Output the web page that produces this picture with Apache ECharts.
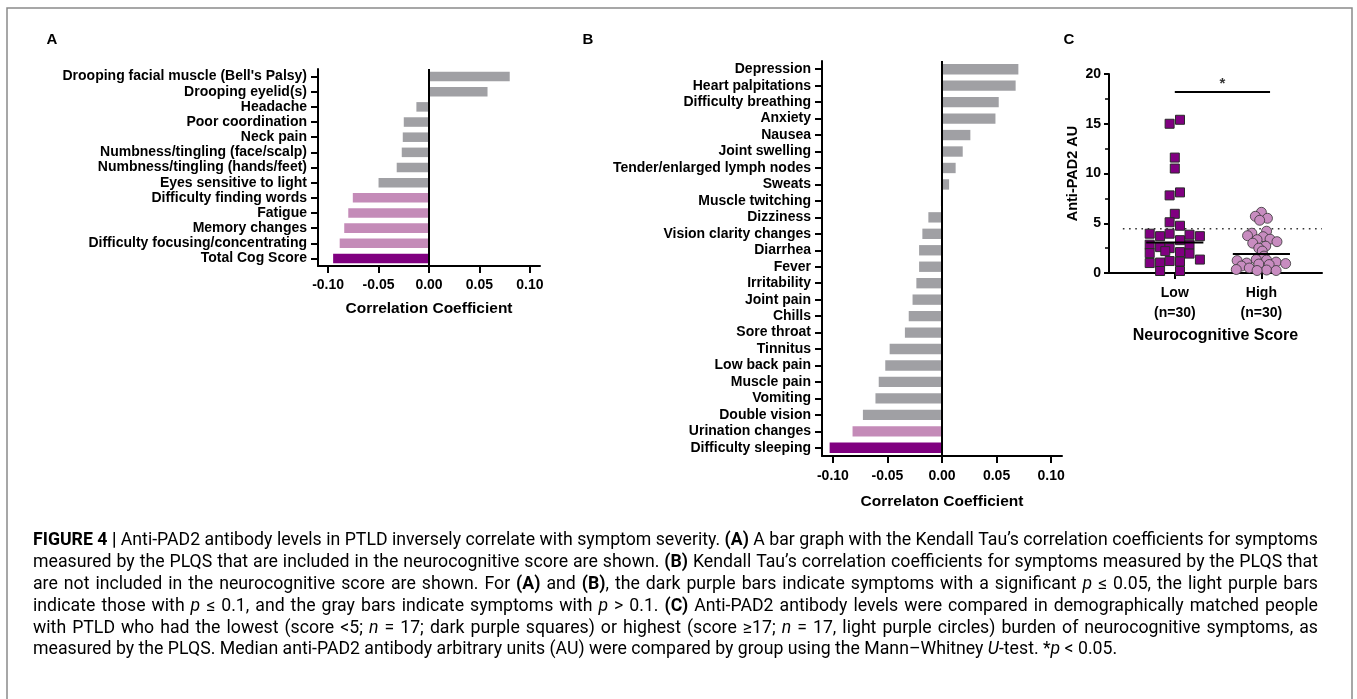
<!DOCTYPE html>
<html><head><meta charset="utf-8">
<script src="https://cdn.jsdelivr.net/npm/echarts@6/dist/echarts.min.js"></script>
<style>html,body{margin:0;padding:0;background:#fff}#c{width:1357px;height:699px}</style>
</head><body><div id="c"></div>
<script>
// ---------- DATA ----------
const aCategories = ["Drooping facial muscle (Bell's Palsy)", "Drooping eyelid(s)", "Headache", "Poor coordination", "Neck pain", "Numbness/tingling (face/scalp)", "Numbness/tingling (hands/feet)", "Eyes sensitive to light", "Difficulty finding words", "Fatigue", "Memory changes", "Difficulty focusing/concentrating", "Total Cog Score"];
const aValues = [0.080, 0.058, -0.0125, -0.025, -0.026, -0.027, -0.032, -0.050, -0.0755, -0.080, -0.084, -0.0885, -0.095];
const aSignificance = [0, 0, 0, 0, 0, 0, 0, 0, 1, 1, 1, 1, 2];

const bCategories = ["Depression", "Heart palpitations", "Difficulty breathing", "Anxiety", "Nausea", "Joint swelling", "Tender/enlarged lymph nodes", "Sweats", "Muscle twitching", "Dizziness", "Vision clarity changes", "Diarrhea", "Fever", "Irritability", "Joint pain", "Chills", "Sore throat", "Tinnitus", "Low back pain", "Muscle pain", "Vomiting", "Double vision", "Urination changes", "Difficulty sleeping"];
const bValues = [0.070, 0.0675, 0.052, 0.049, 0.026, 0.019, 0.0125, 0.0065, -0.001, -0.0125, -0.018, -0.021, -0.021, -0.0235, -0.027, -0.0305, -0.034, -0.048, -0.052, -0.058, -0.061, -0.0725, -0.082, -0.103];
const bSignificance = [0, 0, 0, 0, 0, 0, 0, 0, 0, 0, 0, 0, 0, 0, 0, 0, 0, 0, 0, 0, 0, 0, 1, 2];

const corrTicks = [-0.10, -0.05, 0, 0.05, 0.10];

const cGroups = ["Low\n(n=30)", "High\n(n=30)"];
const lowValues = [15.4, 15.0, 11.6, 10.5, 8.1, 7.8, 5.95, 5.1, 4.75, 3.95, 3.95, 3.85, 3.7, 3.7, 3.3, 2.85, 2.85, 2.6, 2.5, 2.0, 2.1, 1.95, 2.2, 1.0, 1.05, 1.2, 1.15, 1.35, 0.2, 0.2];
const lowJitter = [0.06, -0.06, 0, 0, 0.06, -0.06, 0, -0.06, 0.06, -0.29, -0.06, 0.17, -0.17, 0.29, 0.06, -0.29, 0.17, -0.17, -0.06, -0.29, 0.06, 0.17, -0.11, -0.29, -0.17, -0.06, 0.06, 0.29, -0.17, 0.06];
const highValues = [6.1, 5.7, 5.5, 5.3, 4.2, 4.0, 3.75, 3.65, 3.4, 3.35, 3.15, 3.0, 2.7, 2.5, 2.2, 1.7, 1.35, 1.3, 1.25, 1.1, 1.0, 0.95, 0.9, 0.85, 0.7, 0.5, 0.35, 0.3, 0.25, 0.25];
const highJitter = [0, -0.07, 0.07, -0.02, 0.06, -0.11, -0.16, 0.02, 0.1, -0.05, 0.18, -0.1, 0.05, -0.03, 0.01, 0.03, -0.06, 0.06, -0.28, 0.17, -0.17, 0.28, -0.03, 0.09, -0.23, -0.14, -0.29, 0.06, -0.05, 0.17];
const groupMedians = [3.07, 1.9];
const cutoffValue = 4.45;
const sigBarValue = 18.2;
const cTicks = [0, 5, 10, 15, 20];

const captionLines = [
  [["FIGURE 4 |", "b"], [" Anti-PAD2 antibody levels in PTLD inversely correlate with symptom severity. ", "n"], ["(A)", "b"], [" A bar graph with the Kendall Tau’s correlation coefficients for symptoms", "n"]],
  [["measured by the PLQS that are included in the neurocognitive score are shown. ", "n"], ["(B)", "b"], [" Kendall Tau’s correlation coefficients for symptoms measured by the PLQS that", "n"]],
  [["are not included in the neurocognitive score are shown. For ", "n"], ["(A)", "b"], [" and ", "n"], ["(B)", "b"], [", the dark purple bars indicate symptoms with a significant ", "n"], ["p", "i"], [" ≤ 0.05, the light purple bars", "n"]],
  [["indicate those with ", "n"], ["p", "i"], [" ≤ 0.1, and the gray bars indicate symptoms with ", "n"], ["p", "i"], [" > 0.1. ", "n"], ["(C)", "b"], [" Anti-PAD2 antibody levels were compared in demographically matched people", "n"]],
  [["with PTLD who had the lowest (score <5; ", "n"], ["n", "i"], [" = 17; dark purple squares) or highest (score ≥17; ", "n"], ["n", "i"], [" = 17, light purple circles) burden of neurocognitive symptoms, as", "n"]],
  [["measured by the PLQS. Median anti-PAD2 antibody arbitrary units (AU) were compared by group using the Mann–Whitney ", "n"], ["U", "i"], ["-test. *", "n"], ["p", "i"], [" < 0.05.", "n"]]
];

// ---------- STYLE ----------
const sigColors = ['#a0a0a4', '#c48bb8', '#800080'];
const FONT = '"Liberation Sans", Arial, sans-serif';
const CAPFONT = 'Roboto, "Liberation Sans", sans-serif';
const black = '#000';

function corrXAxis(gi, name, nameGap, margin) {
  return {
    type: 'value', gridIndex: gi, min: -0.11, max: 0.11,
    axisLine: { show: true, onZero: false, lineStyle: { color: black, width: 2 } },
    axisTick: { show: true, customValues: corrTicks, length: 7, lineStyle: { color: black, width: 2 } },
    axisLabel: { customValues: corrTicks, formatter: v => v.toFixed(2), fontFamily: FONT, fontSize: 14, fontWeight: 'bold', color: black, margin: margin },
    splitLine: { show: false },
    name: name, nameLocation: 'middle', nameGap: nameGap,
    nameTextStyle: { fontFamily: FONT, fontSize: 15.5, fontWeight: 'bold', color: black }
  };
}
function catYAxis(gi, cats) {
  return {
    type: 'category', gridIndex: gi, data: cats, inverse: true,
    axisLine: { show: true, onZero: false, lineStyle: { color: black, width: 2 } },
    axisTick: { show: true, alignWithLabel: true, length: 7, lineStyle: { color: black, width: 2 } },
    axisLabel: { fontFamily: FONT, fontSize: 14, fontWeight: 'bold', color: black, margin: 11, interval: 0 },
    splitLine: { show: false }
  };
}
function barSeries(gi, vals, sig) {
  return {
    type: 'bar', xAxisIndex: gi, yAxisIndex: gi, barWidth: '63%',
    data: vals.map((v, i) => ({ value: v, itemStyle: { color: sigColors[sig[i]] } })),
    markLine: { silent: true, symbol: 'none', label: { show: false }, lineStyle: { color: black, width: 2, type: 'solid' }, data: [{ xAxis: 0 }] }
  };
}

// ---------- caption layout (justified lines) ----------
const mctx = document.createElement('canvas').getContext('2d');
function fontFor(style, size) {
  return (style === 'i' ? 'italic ' : '') + (style === 'b' ? 'bold ' : '') + size + 'px ' + CAPFONT;
}
function measure(t, s, size) { mctx.font = fontFor(s, size); return mctx.measureText(t).width; }
function toWords(segs) {
  const words = []; let cur = [];
  segs.forEach(([t, s]) => {
    for (const ch of t) {
      if (ch === ' ') { if (cur.length) { words.push(cur); cur = []; } }
      else if (cur.length && cur[cur.length - 1][1] === s) cur[cur.length - 1][0] += ch;
      else cur.push([ch, s]);
    }
  });
  if (cur.length) words.push(cur);
  return words;
}
function wordWidth(w, size) { return w.reduce((a, [t, s]) => a + measure(t, s, size), 0); }
function naturalWidth(segs, size) {
  const ws = toWords(segs);
  return ws.reduce((a, w) => a + wordWidth(w, size), 0) + (ws.length - 1) * measure(' ', 'n', size);
}
const capLeft = 33, capRight = 1318, capTop = 541, capLineGap = 21.8;
const capSize = 100 * (capRight - capLeft) / naturalWidth(captionLines[0], 100);
const rich = {
  n: { fontFamily: CAPFONT, fontSize: capSize, color: '#3d3d3d' },
  b: { fontFamily: CAPFONT, fontSize: capSize, fontWeight: 'bold', color: '#222' },
  i: { fontFamily: CAPFONT, fontSize: capSize, fontStyle: 'italic', color: '#3d3d3d' }
};

const graphics = [
  { type: 'rect', shape: { x: 7, y: 8, width: 1345, height: 720 }, style: { fill: 'none', stroke: '#8a8a8a', lineWidth: 1.5 }, silent: true },
  { type: 'text', x: 52, y: 40, style: { text: 'A', font: 'bold 15px ' + FONT, fill: black, textAlign: 'center', textVerticalAlign: 'middle' } },
  { type: 'text', x: 588, y: 40, style: { text: 'B', font: 'bold 15px ' + FONT, fill: black, textAlign: 'center', textVerticalAlign: 'middle' } },
  { type: 'text', x: 1069, y: 40, style: { text: 'C', font: 'bold 15px ' + FONT, fill: black, textAlign: 'center', textVerticalAlign: 'middle' } }
];
captionLines.forEach((segs, k) => {
  const words = toWords(segs);
  const ww = words.map(w => wordWidth(w, capSize));
  const total = ww.reduce((a, b) => a + b, 0);
  const last = k === captionLines.length - 1;
  const gap = last ? measure(' ', 'n', capSize) : (capRight - capLeft - total) / (words.length - 1);
  let x = capLeft;
  words.forEach((w, j) => {
    graphics.push({
      type: 'text', x: x, y: capTop + k * capLineGap, silent: true,
      style: { text: w.map(([t, s]) => '{' + s + '|' + t + '}').join(''), rich: rich, verticalAlign: 'middle', textVerticalAlign: 'middle' }
    });
    x += ww[j] + gap;
  });
});

const chart = echarts.init(document.getElementById('c'), null, { renderer: 'canvas' });
chart.setOption({
  animation: false,
  backgroundColor: '#fff',
  grid: [
    { left: 318, top: 69, width: 222, height: 197 },
    { left: 822, top: 61, width: 240, height: 395 },
    { left: 1109, top: 74, width: 213, height: 199 }
  ],
  xAxis: [
    corrXAxis(0, 'Correlation Coefficient', 35, 12),
    corrXAxis(1, 'Correlaton Coefficient', 38, 13),
    {
      type: 'value', gridIndex: 2, min: 0.24, max: 2.7,
      axisLine: { show: true, onZero: false, lineStyle: { color: black, width: 2 } },
      axisTick: { show: true, customValues: [1, 2], length: 6, lineStyle: { color: black, width: 2 } },
      axisLabel: { customValues: [1, 2], formatter: v => cGroups[Math.round(v) - 1], fontFamily: FONT, fontSize: 14, fontWeight: 'bold', color: black, margin: 10, lineHeight: 20 },
      splitLine: { show: false },
      name: 'Neurocognitive Score', nameLocation: 'middle', nameGap: 55,
      nameTextStyle: { fontFamily: FONT, fontSize: 16, fontWeight: 'bold', color: black }
    }
  ],
  yAxis: [
    catYAxis(0, aCategories),
    catYAxis(1, bCategories),
    {
      type: 'value', gridIndex: 2, min: 0, max: 20, interval: 5,
      axisLine: { show: true, onZero: false, lineStyle: { color: black, width: 2 } },
      axisTick: { show: true, length: 5, lineStyle: { color: black, width: 2 } },
      minorTick: { show: true, splitNumber: 2, length: 4, lineStyle: { color: black, width: 1.5 } },
      axisLabel: { fontFamily: FONT, fontSize: 14, fontWeight: 'bold', color: black, margin: 8, customValues: cTicks },
      splitLine: { show: false },
      name: 'Anti-PAD2 AU', nameLocation: 'middle', nameGap: 29, nameRotate: 90,
      nameTextStyle: { fontFamily: FONT, fontSize: 14.5, fontWeight: 'bold', color: black }
    }
  ],
  series: [
    barSeries(0, aValues, aSignificance),
    barSeries(1, bValues, bSignificance),
    {
      type: 'line', xAxisIndex: 2, yAxisIndex: 2, symbol: 'none', z: 1,
      data: [[0.4, cutoffValue], [2.7, cutoffValue]],
      lineStyle: { color: '#333', width: 1.6, type: [1.6, 4.6] }
    },
    {
      type: 'scatter', xAxisIndex: 2, yAxisIndex: 2, symbol: 'rect', symbolSize: 9, z: 3,
      data: lowValues.map((v, i) => [1 + lowJitter[i], v]),
      itemStyle: { color: '#800080', borderColor: '#2a2a2a', borderWidth: 1, opacity: 1 }
    },
    {
      type: 'scatter', xAxisIndex: 2, yAxisIndex: 2, symbol: 'circle', symbolSize: 10, z: 3,
      data: highValues.map((v, i) => [2 + highJitter[i], v]),
      itemStyle: { color: '#c88cc0', borderColor: '#333', borderWidth: 0.8, opacity: 1 }
    },
    ...groupMedians.map((m, g) => ({
      type: 'line', xAxisIndex: 2, yAxisIndex: 2, symbol: 'none', z: 4,
      data: [[g + 1 - 0.33, m], [g + 1 + 0.33, m]],
      lineStyle: { color: black, width: 2 }
    })),
    {
      type: 'line', xAxisIndex: 2, yAxisIndex: 2, symbol: 'none', z: 4,
      data: [[1, sigBarValue], [2.1, sigBarValue]],
      lineStyle: { color: black, width: 2 }
    },
    {
      type: 'scatter', xAxisIndex: 2, yAxisIndex: 2, symbolSize: 0, z: 4,
      data: [[1.55, sigBarValue]],
      label: { show: true, formatter: '*', position: 'top', distance: 1, fontFamily: FONT, fontSize: 15, fontWeight: 'bold', color: black }
    }
  ],
  graphic: graphics
});
</script>
</body></html>
